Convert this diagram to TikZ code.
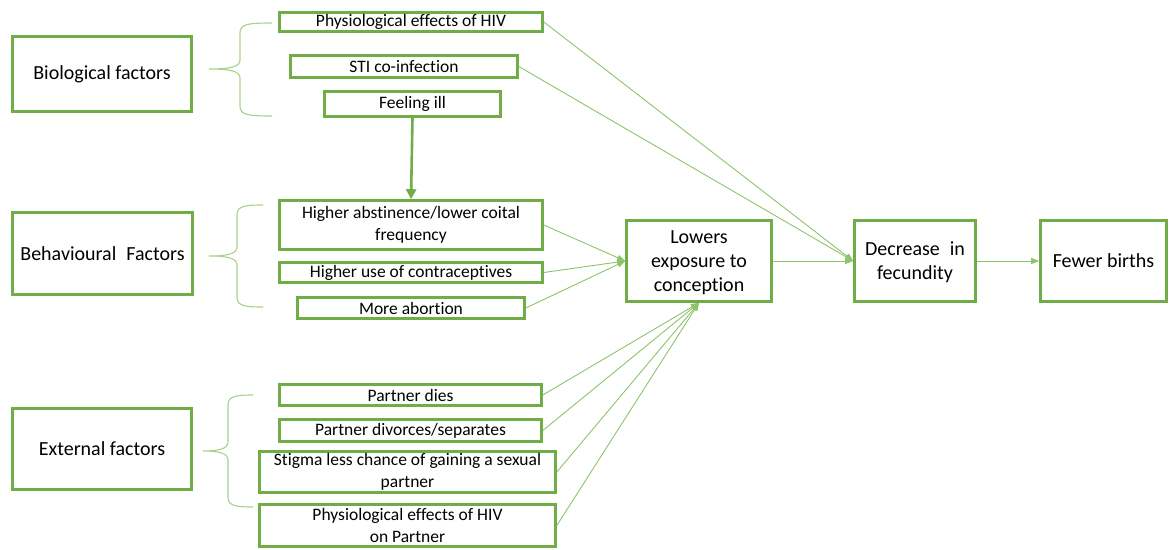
\documentclass[tikz,border=0pt]{standalone}
\usepackage{fontspec}
\setmainfont{Carlito}[Ligatures=NoCommon]
\usetikzlibrary{arrows.meta}
\definecolor{boxgreen}{HTML}{70AD47}
\definecolor{linegreen}{HTML}{8DC46B}
\definecolor{bracegreen}{HTML}{A9D18E}

% curly brace: #1 tip x, #2 tip y, #3 spine x, #4 end x, #5 top y, #6 bottom y
\newcommand\factorbrace[6]{%
  \draw[bracegreen, line width=1.1pt]
    (#4,#5) .. controls (#3+8,#5) and (#3,#5+1) .. (#3,#5+10)
    -- (#3,#2-9) .. controls (#3,#2-2) and (#3-10,#2) .. (#1,#2)
    .. controls (#3-10,#2) and (#3,#2+2) .. (#3,#2+9)
    -- (#3,#6-10) .. controls (#3,#6-1) and (#3+8,#6) .. (#4,#6);}

\begin{document}
\begin{tikzpicture}[x=1pt,y=-1pt,
  box/.style={draw=boxgreen, line width=2.6pt, fill=white, align=center,
    inner sep=0pt, font=\fontsize{17.5}{21.5}\selectfont},
  bigbox/.style={box, font=\fontsize{20}{24}\selectfont},
  link/.style={draw=linegreen, line width=0.9pt,
    -{Triangle[length=8pt,width=6pt]}},
  thicklink/.style={draw=boxgreen, line width=2.6pt,
    -{Triangle[length=10pt,width=10pt]}}]
\useasboundingbox (0,0) rectangle (1172,549);

% factor groups
\node[bigbox, minimum width=179, minimum height=75] (bio) at (102,74) {Biological factors};
\node[bigbox, minimum width=180, minimum height=82] (beh) at (102.5,253.5) {Behavioural\enspace Factors};
\node[bigbox, minimum width=179, minimum height=81] (ext) at (102,449) {External factors};

% biological
\node[box, minimum width=263, minimum height=19.5] (phys) at (411,22) {Physiological effects of HIV};
\node[box, minimum width=227, minimum height=22] (sti) at (404,66.5) {STI co-infection};
\node[box, minimum width=176, minimum height=25] (ill) at (412.5,104) {Feeling ill};

% behavioural
\node[box, minimum width=263, minimum height=49] (abst) at (411,225) {Higher abstinence/lower coital\\frequency};
\node[box, minimum width=263, minimum height=20] (use) at (411,272.5) {Higher use of contraceptives};
\node[box, minimum width=227, minimum height=21] (abort) at (411,308) {More abortion};

% external
\node[box, minimum width=262, minimum height=21] (dies) at (410.5,395) {Partner dies};
\node[box, minimum width=262, minimum height=22] (div) at (410.5,430.5) {Partner divorces/separates};
\node[box, minimum width=296, minimum height=41] (stig) at (407.5,472) {Stigma less chance of gaining a sexual\\partner};
\node[box, minimum width=296, minimum height=42] (physp) at (407.5,525.5) {Physiological effects of HIV\\on Partner};

% outcome chain
\node[bigbox, minimum width=145, minimum height=81] (lowers) at (699,261) {\strut Lowers\\exposure to\\conception};
\node[bigbox, minimum width=121, minimum height=81] (decr) at (915,261) {\strut Decrease\enspace in\\fecundity};
\node[bigbox, minimum width=126, minimum height=81] (fewer) at (1103.5,261) {Fewer births};

% braces
\factorbrace{209}{69}{240}{272}{23}{116}
\factorbrace{209}{256}{237}{263}{205}{307}
\factorbrace{203}{451}{228}{253}{395}{507}

% connectors
\draw[link] (phys.east) -- (decr.west);
\draw[link] (sti.east) -- (decr.west);
\draw[thicklink] (ill.south) -- (abst.north);
\draw[link] (abst.east) -- (lowers.west);
\draw[link] (use.east) -- (lowers.west);
\draw[link] (abort.east) -- (lowers.west);
\draw[link] (dies.east) -- (lowers.south);
\draw[link] (div.east) -- (lowers.south);
\draw[link] (stig.east) -- (lowers.south);
\draw[link] (physp.east) -- (lowers.south);
\draw[link] (lowers.east) -- (decr.west);
\draw[link] (decr.east) -- (fewer.west);
\end{tikzpicture}
\end{document}
